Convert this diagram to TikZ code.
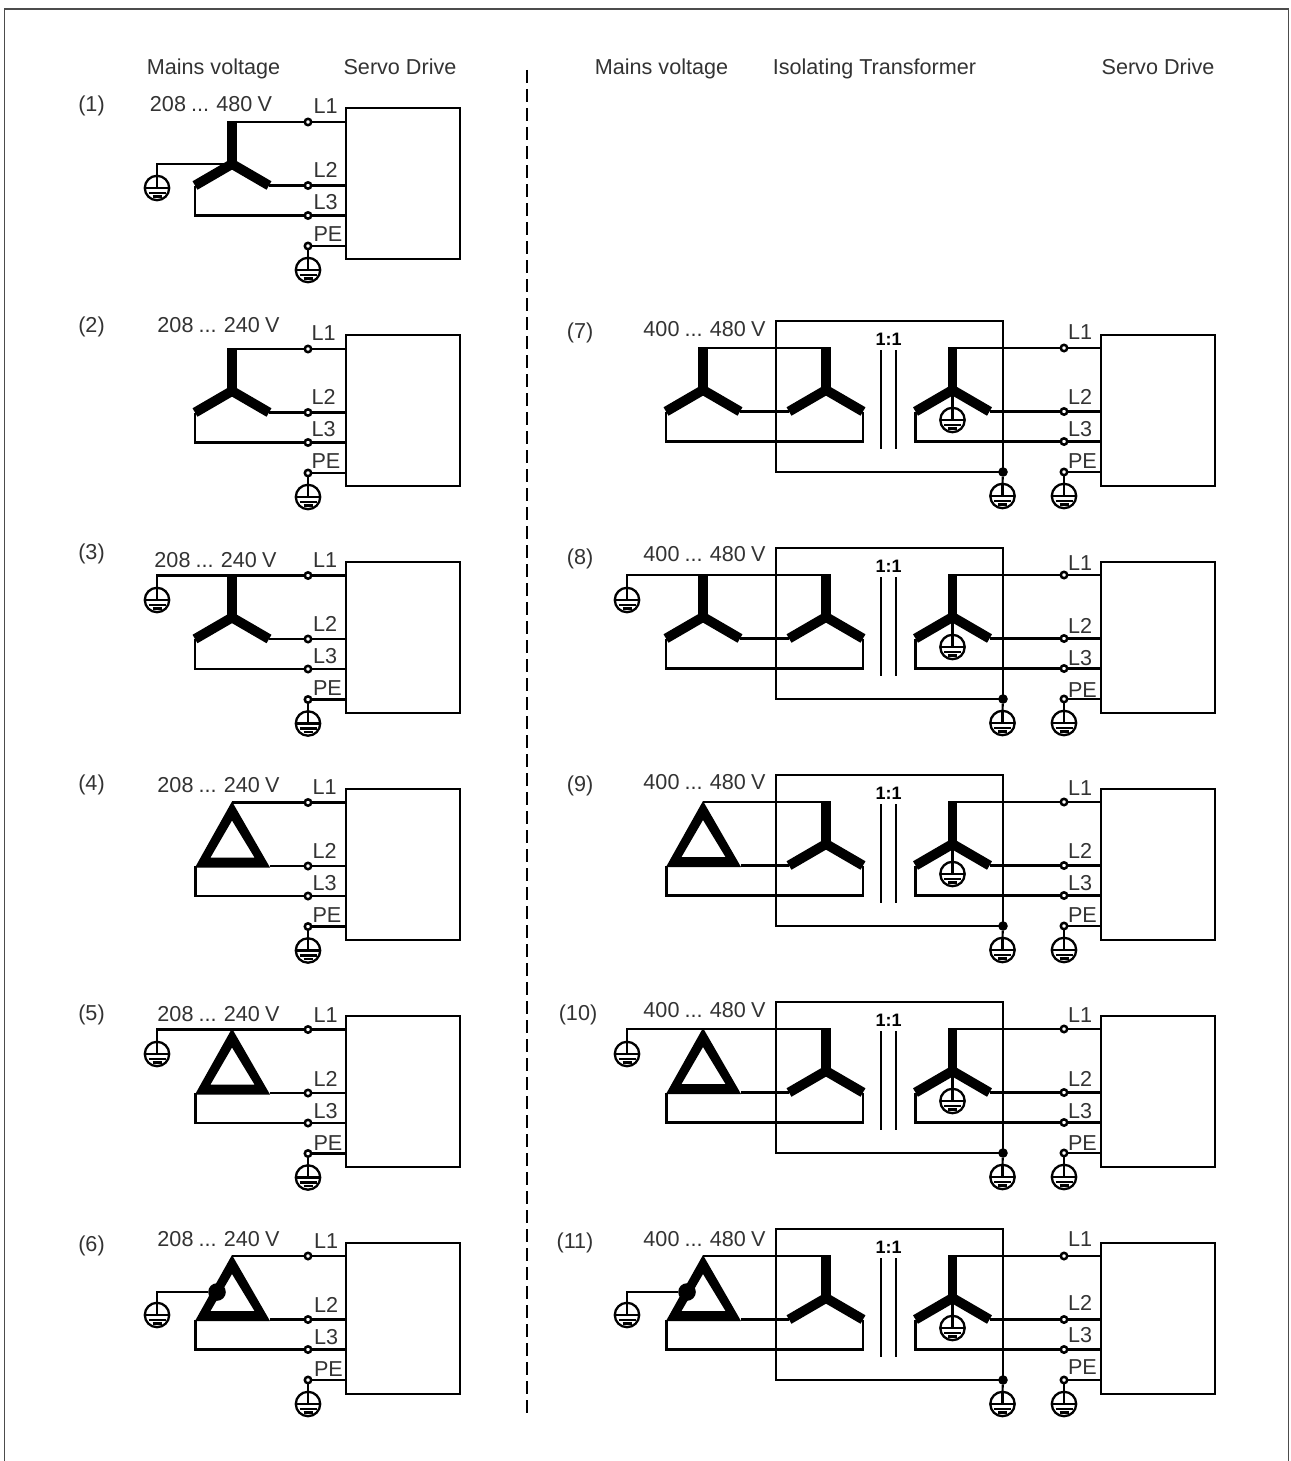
\documentclass[tikz,border=0pt]{standalone}
\usepackage{fontspec}
\setmainfont{Liberation Sans}
\definecolor{ink}{HTML}{333333}
\newcommand\vt[1]{\spaceskip=0.24em\relax #1}
\tikzset{
  wire/.style={line width=1.05pt,line cap=butt,line join=miter},
  armline/.style={line width=4.9pt,line cap=butt,line join=miter},
  term/.style={circle,draw,fill=white,line width=1.25pt,inner sep=0pt,minimum size=3.2pt,outer sep=0pt},
  tdot/.style={circle,fill=black,inner sep=0pt,minimum size=4.8pt,outer sep=0pt},
  bigdot/.style={circle,fill=black,inner sep=0pt,minimum size=8.8pt,outer sep=0pt},
  gndnode/.style={circle,draw,line width=1.15pt,inner sep=0pt,minimum size=12.2pt,outer sep=0pt},
  txt/.style={text=ink,font=\fontsize{10.8}{12}\selectfont,inner sep=0pt,outer sep=0pt},
  ratio/.style={text=black,font=\fontsize{9}{10}\selectfont\bfseries,inner sep=0pt,outer sep=0pt},
  drivebox/.style={draw,line width=1.15pt,inner sep=0pt,outer sep=0pt,minimum width=57pt,minimum height=75.5pt,anchor=north west},
  transbox/.style={draw,line width=1.05pt,inner sep=0pt,outer sep=0pt,minimum width=113.5pt,minimum height=75.5pt,anchor=north west},
  coil/.style={line width=1.05pt},
  frameline/.style={line width=0.7pt,draw=black!70},
  divider/.style={line width=1pt,dash pattern=on 6.5pt off 3pt}
}
% #1 name, #2 x, #3 y
\newcommand\gndsym[3]{%
  \node[gndnode] (#1) at (#2,#3) {};
  \draw[wire] (#1.west) -- (#1.east);
  \draw[wire] (#1.north) -- (#1.center);
  \draw[wire] ([shift={(-8.5,5)}]#1.center) -- ([shift={(8.5,5)}]#1.center);
  \draw[wire] ([shift={(-4.5,8.5)}]#1.center) -- ([shift={(4.5,8.5)}]#1.center);
}
% #1 name, #2 centre x, #3 top y
\newcommand\wye[3]{%
  \coordinate (#1-t) at (#2,#3);
  \coordinate (#1-c) at (#2,#3+42);
  \coordinate (#1-l) at (#2-37,#3+63.5);
  \coordinate (#1-r) at (#2+37,#3+63.5);
  \draw[armline] (#2,#3-1) -- (#1-c);
  \draw[armline] (#1-l) -- (#1-c) -- (#1-r);
}
\newcommand\dlt[3]{%
  \coordinate (#1-t) at (#2,#3);
  \coordinate (#1-l) at (#2-36.5,#3+63.5);
  \coordinate (#1-r) at (#2+37.5,#3+63.5);
  \fill[even odd rule] (#2,#3-1) -- (#2-37,#3+65) -- (#2+38,#3+65) -- cycle
     (#2,#3+18) -- (#2-21.5,#3+55) -- (#2+22.5,#3+55) -- cycle;
}
% #1 row, #2 terminal x, #3 box x, #4 box top, #5 L1 y, #6 label x, #7 L1 label y, #8 L2 label y
\newcommand\drive[8]{%
  \node[drivebox] (#1box) at (#3,#4) {};
  \node[term] (#1L1) at (#2,#5) {};
  \node[term] (#1L2) at (#2,#5+63.5) {};
  \node[term] (#1L3) at (#2,#5+93.5) {};
  \node[term] (#1PE) at (#2,#5+124) {};
  \draw[wire] (#1L1) -- (#1L1 -| #1box.west);
  \draw[wire] (#1L2) -- (#1L2 -| #1box.west);
  \draw[wire] (#1L3) -- (#1L3 -| #1box.west);
  \draw[wire] (#1PE) -- (#1PE -| #1box.west);
  \gndsym{#1PEg}{#2}{#5+148}
  \draw[wire] (#1PE) -- (#1PEg.north);
  \node[txt,anchor=base west] (#1tL1) at (#6,#7+8) {L1};
  \node[txt,anchor=base west] (#1tL2) at (#6,#8+8) {L2};
  \node[txt,anchor=base west] (#1tL3) at (#6,#8+40) {L3};
  \node[txt,anchor=base west] (#1tPE) at (#6,#8+72) {PE};
}
% source #1s to terminals of row #1
\newcommand\direct[1]{%
  \draw[wire] (#1s-t) -- (#1L1);
  \draw[wire] (#1s-r) -- (#1L2);
  \draw[wire] (#1s-l) -- (#1s-l |- #1L3) -- (#1L3);
}
% #1 row, #2 L1 y : transformer with source #1s
\newcommand\xfmr[2]{%
  \node[transbox] (#1tr) at (776,#2-27) {};
  \wye{#1p}{826}{#2}
  \wye{#1c}{952.5}{#2}
  \draw[wire] (#1s-t) -- (#1p-t);
  \draw[wire] (#1s-r) -- (#1p-l);
  \draw[wire] (#1s-l) -- (#1s-l |- #1L3) -- (#1p-r |- #1L3) -- (#1p-r);
  \draw[coil] (881,#2+2) -- (881,#2+101);
  \draw[coil] (896,#2+2) -- (896,#2+101);
  \node[ratio,anchor=base] (#1ratio) at (888.5,#2-3) {1:1};
  \draw[wire] (#1c-t) -- (#1L1);
  \draw[wire] (#1c-r) -- (#1L2);
  \draw[wire] (#1c-l) -- (#1c-l |- #1L3) -- (#1L3);
  \gndsym{#1cg}{952.5}{#2+72}
  \draw[wire] (#1c-c) -- (#1cg.north);
  \node[tdot] (#1dot) at (#1tr.south east) {};
  \gndsym{#1tg}{1002.5}{#2+148}
  \draw[wire] (#1dot) -- (#1tg.north);
}
\begin{document}
\begin{tikzpicture}[x=0.5pt,y=-0.5pt]
\useasboundingbox (0,0) rectangle (1290,1461);
\coordinate (fa) at (4.5,1461);
\coordinate (fb) at (4.5,9);
\coordinate (fc) at (1288.5,9);
\coordinate (fd) at (1288.5,1461);
\draw[frameline] (fa) -- (fb) -- (fc) -- (fd);
\coordinate (da) at (527,70);
\coordinate (db) at (527,1416);
\draw[divider] (da) -- (db);

% headers
\node[txt,anchor=base] (h1) at (213.5,74.5) {Mains voltage};
\node[txt,anchor=base] (h2) at (400,74.5) {Servo Drive};
\node[txt,anchor=base] (h3) at (661.5,74.5) {Mains voltage};
\node[txt,anchor=base] (h4) at (874.5,74.5) {Isolating Transformer};
\node[txt,anchor=base] (h5) at (1158,74.5) {Servo Drive};

% row labels
\node[txt,anchor=base] (n1) at (91.5,112) {(1)};
\node[txt,anchor=base] (n2) at (91.5,332.5) {(2)};
\node[txt,anchor=base] (n3) at (91.5,559.5) {(3)};
\node[txt,anchor=base] (n4) at (91.5,790.5) {(4)};
\node[txt,anchor=base] (n5) at (91.5,1020.5) {(5)};
\node[txt,anchor=base] (n6) at (91.5,1251.5) {(6)};
\node[txt,anchor=base] (n7) at (580,338.5) {(7)};
\node[txt,anchor=base] (n8) at (580,564.5) {(8)};
\node[txt,anchor=base] (n9) at (580,791.5) {(9)};
\node[txt,anchor=base] (n10) at (578,1020.5) {(10)};
\node[txt,anchor=base] (n11) at (575,1248.5) {(11)};

% voltages
\node[txt,anchor=base] (v1) at (211,112) {\vt{208 ... 480 V}};
\node[txt,anchor=base] (v2) at (218.5,332.5) {\vt{208 ... 240 V}};
\node[txt,anchor=base] (v3) at (215.5,567.5) {\vt{208 ... 240 V}};
\node[txt,anchor=base] (v4) at (218.5,792.5) {\vt{208 ... 240 V}};
\node[txt,anchor=base] (v5) at (218.5,1021.5) {\vt{208 ... 240 V}};
\node[txt,anchor=base] (v6) at (218.5,1246.5) {\vt{208 ... 240 V}};
\node[txt,anchor=base] (v7) at (704.5,336) {\vt{400 ... 480 V}};
\node[txt,anchor=base] (v8) at (704.5,561) {\vt{400 ... 480 V}};
\node[txt,anchor=base] (v9) at (704.5,789) {\vt{400 ... 480 V}};
\node[txt,anchor=base] (v10) at (704.5,1017) {\vt{400 ... 480 V}};
\node[txt,anchor=base] (v11) at (704.5,1246) {\vt{400 ... 480 V}};

% left column
\drive{a}{308}{346}{108}{122}{313.5}{105}{169}
\wye{as}{232}{122}
\direct{a}
\gndsym{ag}{157}{188}
\draw[wire] (ag.north) |- (as-c);

\drive{b}{308}{346}{335}{349}{311.5}{332}{396}
\wye{bs}{232}{349}
\direct{b}

\drive{c}{308}{346}{562}{575.5}{313}{559}{623}
\wye{cs}{232}{575.5}
\direct{c}
\gndsym{cg}{157}{600}
\draw[wire] (cg.north) |- (cs-t);

\drive{d}{308}{346}{789}{802.5}{312.5}{786}{850}
\dlt{ds}{232}{802.5}
\direct{d}

\drive{e}{308}{346}{1016}{1029.5}{313.5}{1014}{1078}
\dlt{es}{232}{1029.5}
\direct{e}
\gndsym{eg}{157}{1054}
\draw[wire] (eg.north) |- (es-t);

\drive{f}{308}{346}{1243}{1256}{314}{1240}{1304}
\dlt{fs}{232}{1256}
\direct{f}
\node[bigdot] (fdot) at (217,1292) {};
\gndsym{fg}{157}{1315}
\draw[wire] (fg.north) |- (fdot);

% right column
\drive{g}{1064}{1101}{335}{348}{1068}{331}{396}
\wye{gs}{703}{348}
\xfmr{g}{348}

\drive{h}{1064}{1101}{562}{575}{1068}{562}{625}
\wye{hs}{703}{575}
\xfmr{h}{575}
\gndsym{hg}{627}{600}
\draw[wire] (hg.north) |- (hs-t);

\drive{i}{1064}{1101}{789}{802}{1068}{787}{850}
\dlt{is}{703}{802}
\xfmr{i}{802}

\drive{j}{1064}{1101}{1016}{1029}{1068}{1014}{1078}
\dlt{js}{703}{1029}
\xfmr{j}{1029}
\gndsym{jg}{627}{1054}
\draw[wire] (jg.north) |- (js-t);

\drive{k}{1064}{1101}{1243}{1256}{1068}{1238}{1302}
\dlt{ks}{703}{1256}
\xfmr{k}{1256}
\node[bigdot] (kdot) at (687,1292) {};
\gndsym{kg}{627}{1315}
\draw[wire] (kg.north) |- (kdot);
\end{tikzpicture}
\end{document}
